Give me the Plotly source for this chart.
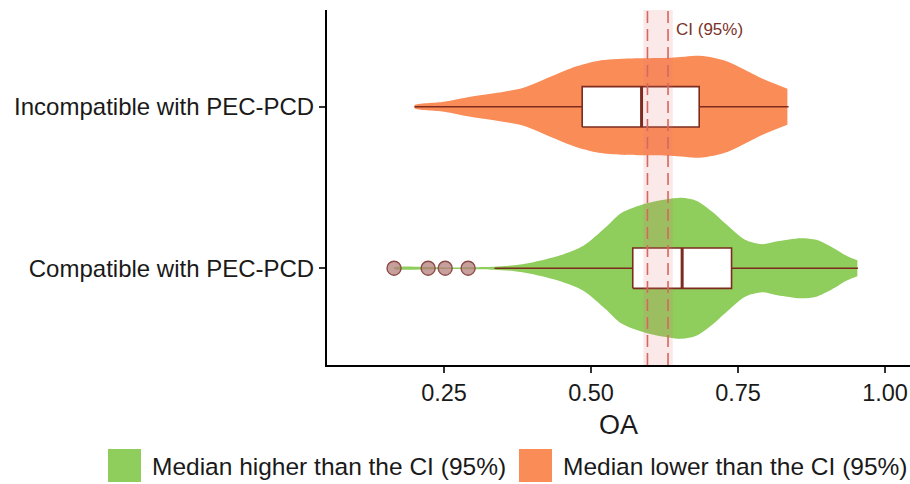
import plotly.graph_objects as go

# ---------------- data ----------------
categories = ["Compatible with PEC-PCD", "Incompatible with PEC-PCD"]
cat_pos = [1, 2]

# violin outlines: OA value and relative density (1 = widest point of both violins)
comp_x = [0.165, 0.250, 0.300, 0.336, 0.370, 0.397, 0.448, 0.487, 0.525, 0.551,
          0.595, 0.653, 0.679, 0.705, 0.730, 0.762, 0.791, 0.817, 0.857, 0.883,
          0.910, 0.936, 0.953]
comp_density = [0.011, 0.011, 0.014, 0.021, 0.042, 0.077, 0.183, 0.317, 0.577, 0.775,
                0.915, 0.993, 0.951, 0.803, 0.620, 0.401, 0.338, 0.380, 0.423, 0.401,
                0.296, 0.169, 0.113]

inc_x = [0.200, 0.250, 0.295, 0.340, 0.385, 0.435, 0.473, 0.513, 0.552, 0.589,
         0.636, 0.684, 0.708, 0.733, 0.758, 0.792, 0.834]
inc_density = [0.021, 0.070, 0.141, 0.197, 0.268, 0.437, 0.563, 0.648, 0.676, 0.683,
               0.690, 0.718, 0.690, 0.634, 0.535, 0.394, 0.254]

# box statistics (compatible, incompatible)
box_lower = [0.336, 0.200]
box_q1 = [0.571, 0.485]
box_median = [0.655, 0.586]
box_q3 = [0.739, 0.684]
box_upper = [0.954, 0.836]

# outliers of the compatible group
outliers_x = [0.165, 0.223, 0.252, 0.291]

# confidence interval of the reference median
ci_band = [0.589, 0.639]
ci_lines = [0.596, 0.631]

legend_labels = ["Median higher than the CI (95%)", "Median lower than the CI (95%)"]

# ---------------- style ----------------
GREEN = "#8fcd5c"
ORANGE = "#fa8c57"
BOX_LINE = "#7c2b1e"
FONT = "Liberation Sans, Arial, sans-serif"
TXT = "#1a1a1a"
HALF_WIDTH = 0.44
BOX_WIDTH = 0.25

W, H = 910, 484
ML, MR, MT, MB = 327, 0, 10, 119
PW, PH = W - ML - MR, H - MT - MB


def px_x(px):
    return (px - ML) / PW


def px_y(py):
    return (H - MB - py) / PH


fig = go.Figure()


def add_violin(xs, dens, pos, color):
    upper = [pos + d * HALF_WIDTH for d in dens]
    lower = [pos - d * HALF_WIDTH for d in dens]
    # path starts at the upper-right end so the closing (truncated) edge stays straight
    fig.add_trace(go.Scatter(
        x=list(xs[::-1]) + list(xs),
        y=upper[::-1] + lower,
        fill="toself", fillcolor=color, mode="lines",
        line=dict(width=0, color=color, shape="spline", smoothing=0.8),
        hoverinfo="skip", showlegend=False))


add_violin(comp_x, comp_density, cat_pos[0], GREEN)
add_violin(inc_x, inc_density, cat_pos[1], ORANGE)

hb = BOX_WIDTH / 2
for i, pos in enumerate(cat_pos):
    # whiskers
    for a, b in ((box_lower[i], box_q1[i]), (box_q3[i], box_upper[i])):
        fig.add_trace(go.Scatter(
            x=[a, b], y=[pos, pos], mode="lines",
            line=dict(color=BOX_LINE, width=1.6),
            showlegend=False, hoverinfo="skip"))
    # box body
    fig.add_trace(go.Scatter(
        x=[box_q1[i], box_q3[i], box_q3[i], box_q1[i], box_q1[i]],
        y=[pos - hb, pos - hb, pos + hb, pos + hb, pos - hb],
        mode="lines", fill="toself", fillcolor="white",
        line=dict(color=BOX_LINE, width=1.6),
        showlegend=False, hoverinfo="skip"))
    # median
    fig.add_trace(go.Scatter(
        x=[box_median[i], box_median[i]], y=[pos - hb, pos + hb],
        mode="lines", line=dict(color=BOX_LINE, width=3),
        showlegend=False, hoverinfo="skip"))

fig.add_trace(go.Scatter(
    x=outliers_x, y=[cat_pos[0]] * len(outliers_x), mode="markers",
    marker=dict(size=14, color="rgba(178,122,118,0.72)",
                line=dict(color="#8a4a46", width=1.4)),
    showlegend=False, hoverinfo="skip"))

shapes = []
shapes.append(dict(type="rect", xref="x", yref="paper", x0=ci_band[0], x1=ci_band[1],
                   y0=0, y1=1, fillcolor="rgba(232,120,120,0.17)",
                   line=dict(width=0), layer="above"))
for xv in ci_lines:
    shapes.append(dict(type="line", xref="x", yref="paper", x0=xv, x1=xv, y0=0, y1=1,
                       line=dict(color="#d3695e", width=1.6, dash="12px,6px"),
                       layer="above"))

# legend (drawn manually to match the big square keys)
leg_keys = [(108, GREEN, 152), (519, ORANGE, 563)]
annotations = []
for (kx, col, tx), lab in zip(leg_keys, legend_labels):
    shapes.append(dict(type="rect", xref="paper", yref="paper",
                       x0=px_x(kx), x1=px_x(kx + 33), y0=px_y(482), y1=px_y(449),
                       fillcolor=col, line=dict(width=0)))
    annotations.append(dict(xref="paper", yref="paper", x=px_x(tx - 2), y=px_y(466),
                            xanchor="left", yanchor="middle", showarrow=False,
                            text=lab, font=dict(family=FONT, size=24.5, color=TXT)))

annotations.append(dict(xref="x", yref="paper", x=ci_lines[1] + 0.010, y=px_y(29),
                        xanchor="left", yanchor="middle", showarrow=False,
                        text="CI (95%)", font=dict(family=FONT, size=17, color="#7a3328")))

fig.update_layout(
    width=W, height=H,
    margin=dict(l=ML, r=MR, t=MT, b=MB, pad=0),
    paper_bgcolor="white", plot_bgcolor="white",
    font=dict(family=FONT, color=TXT),
    shapes=shapes, annotations=annotations,
    showlegend=False,
    xaxis=dict(range=[0.051, 1.0425], tickvals=[0.25, 0.5, 0.75, 1.0],
               ticktext=["0.25", "0.50", "0.75", "1.00"],
               showgrid=False, zeroline=False, showline=True, linecolor="black",
               linewidth=2, ticks="outside", ticklen=6, tickwidth=2,
               tickcolor="#333333", tickfont=dict(size=23.5, color=TXT),
               title=dict(text="OA", font=dict(size=27, color=TXT), standoff=10)),
    yaxis=dict(range=[0.4, 2.6], tickvals=cat_pos, ticktext=categories,
               showgrid=False, zeroline=False, showline=True, linecolor="black",
               linewidth=2, ticks="outside", ticklen=6, tickwidth=2,
               tickcolor="#333333", tickfont=dict(size=24, color=TXT),
               ticklabelstandoff=0),
)

fig.write_html("out.html")
